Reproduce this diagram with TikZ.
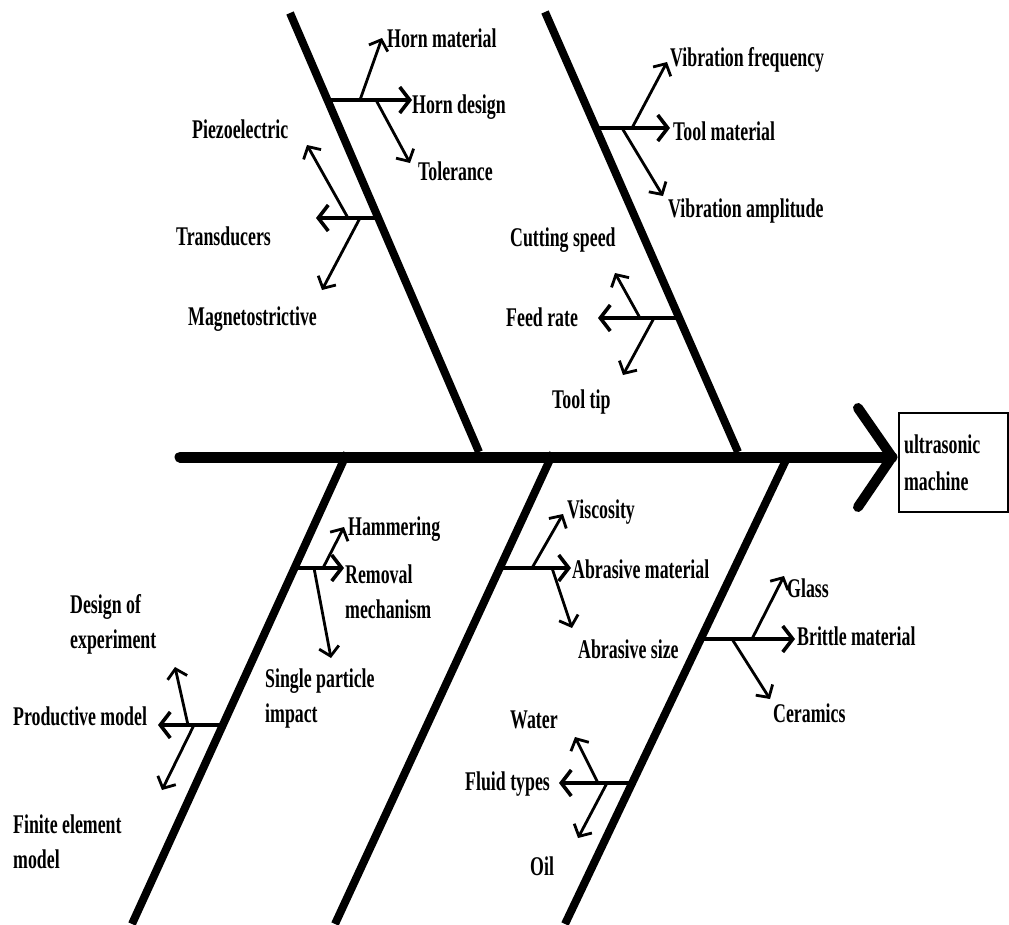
\documentclass[tikz,border=0pt]{standalone}
\usepackage{fontspec}
\newfontfamily\lblfont{Liberation Serif}[FakeStretch=0.66]
\usetikzlibrary{arrows.meta}
\begin{document}
\begin{tikzpicture}[x=1pt,y=-1pt,
  spine/.style={line width=11pt,line cap=round},
  head/.style={line width=10pt,line cap=round,line join=round},
  bone/.style={line width=8pt},
  branch/.style={line width=3.6pt,-{Straight Barb[length=10pt,width=26pt]}},
  twig/.style={line width=2.8pt,-{Straight Barb[length=9pt,width=20pt]}},
  lbl/.style={anchor=base west,inner sep=0pt,align=left,
    font=\lblfont\bfseries\fontsize{27}{35}\selectfont},
]
\useasboundingbox (0,0) rectangle (1009,924);

% effect box
\node (goal) [draw,line width=2.2pt,anchor=north west,minimum height=99pt,
  text width=99pt,inner xsep=5pt,inner ysep=0pt,align=left,
  font=\lblfont\bfseries\fontsize{27}{37}\selectfont] at (898,412) {ultrasonic\\machine};

% spine and its head
\coordinate (sp0) at (180,457);
\coordinate (sp1) at (892,457);
\coordinate (hd1) at (858,408);
\coordinate (hd2) at (858,507);
\draw[spine] (sp0) -- (sp1);
\draw[head] (hd1) -- (sp1) -- (hd2);

% main bones
\coordinate (b1t) at (290,13);  \coordinate (b1b) at (479,452);
\coordinate (b2t) at (545,12);  \coordinate (b2b) at (738,452);
\coordinate (b3t) at (347,453); \coordinate (b3b) at (132,924);
\coordinate (b4t) at (553,453); \coordinate (b4b) at (335,924);
\coordinate (b5t) at (786,460); \coordinate (b5b) at (565,924);
\foreach \b in {1,...,5} \draw[bone] (b\b t) -- (b\b b);

% labels (multi-line labels are placed by the baseline of their last line)
\node[lbl] (hm)  at (387,47)  {Horn material};
\node[lbl] (hd)  at (412,113) {Horn design};
\node[lbl] (tol) at (418,180) {Tolerance};
\node[lbl] (pz)  at (192,138) {Piezoelectric};
\node[lbl] (tr)  at (176,245) {Transducers};
\node[lbl] (mg)  at (188,325) {Magnetostrictive};
\node[lbl] (vf)  at (670,66)  {Vibration frequency};
\node[lbl] (tm)  at (673,140) {Tool material};
\node[lbl] (va)  at (668,217) {Vibration amplitude};
\node[lbl] (cs)  at (510,246) {Cutting speed};
\node[lbl] (fr)  at (506,326) {Feed rate};
\node[lbl] (tt)  at (552,408) {Tool tip};
\node[lbl] (ham) at (348,535) {Hammering};
\node[lbl] (rm)  at (345,618) {Removal\\mechanism};
\node[lbl] (sp)  at (265,722) {Single particle\\impact};
\node[lbl] (de)  at (70,648)  {Design of\\experiment};
\node[lbl] (pm)  at (13,725)  {Productive model};
\node[lbl] (fe)  at (13,868)  {Finite element\\model};
\node[lbl] (vis) at (567,518) {Viscosity};
\node[lbl] (am)  at (572,578) {Abrasive material};
\node[lbl] (as)  at (578,658) {Abrasive size};
\node[lbl] (wa)  at (510,728) {Water};
\node[lbl] (ft)  at (465,790) {Fluid types};
\node[lbl] (oil) at (530,875) {Oil};
\node[lbl] (gl)  at (787,597) {Glass};
\node[lbl] (bm)  at (797,645) {Brittle material};
\node[lbl] (cer) at (773,722) {Ceramics};

% horn cluster
\coordinate (h0) at (328,100); \coordinate (h1) at (412,100);
\coordinate (h2) at (360,100); \coordinate (h3) at (382,38);
\coordinate (h4) at (376,100); \coordinate (h5) at (410,163);
\draw[branch] (h0) -- (h1);
\draw[twig] (h2) -- (h3);
\draw[twig] (h4) -- (h5);

% transducer cluster
\coordinate (t0) at (378,218); \coordinate (t1) at (316,218);
\coordinate (t2) at (348,218); \coordinate (t3) at (307,145);
\coordinate (t4) at (360,218); \coordinate (t5) at (322,290);
\draw[branch] (t0) -- (t1);
\draw[twig] (t2) -- (t3);
\draw[twig] (t4) -- (t5);

% tool cluster
\coordinate (o0) at (596,128); \coordinate (o1) at (670,128);
\coordinate (o2) at (632,128); \coordinate (o3) at (667,62);
\coordinate (o4) at (622,128); \coordinate (o5) at (663,196);
\draw[branch] (o0) -- (o1);
\draw[twig] (o2) -- (o3);
\draw[twig] (o4) -- (o5);

% feed cluster
\coordinate (f0) at (679,318); \coordinate (f1) at (598,318);
\coordinate (f2) at (640,318); \coordinate (f3) at (615,273);
\coordinate (f4) at (654,318); \coordinate (f5) at (623,375);
\draw[branch] (f0) -- (f1);
\draw[twig] (f2) -- (f3);
\draw[twig] (f4) -- (f5);

% removal cluster
\coordinate (r0) at (294,568); \coordinate (r1) at (344,568);
\coordinate (r2) at (323,568); \coordinate (r3) at (344,527);
\coordinate (r4) at (314,568); \coordinate (r5) at (331,658);
\draw[branch] (r0) -- (r1);
\draw[twig] (r2) -- (r3);
\draw[twig] (r4) -- (r5);

% model cluster
\coordinate (m0) at (222,725); \coordinate (m1) at (158,725);
\coordinate (m2) at (188,725); \coordinate (m3) at (175,667);
\coordinate (m4) at (194,725); \coordinate (m5) at (162,790);
\draw[branch] (m0) -- (m1);
\draw[twig] (m2) -- (m3);
\draw[twig] (m4) -- (m5);

% abrasive cluster
\coordinate (a0) at (500,568); \coordinate (a1) at (571,568);
\coordinate (a2) at (532,568); \coordinate (a3) at (563,514);
\coordinate (a4) at (552,568); \coordinate (a5) at (572,628);
\draw[branch] (a0) -- (a1);
\draw[twig] (a2) -- (a3);
\draw[twig] (a4) -- (a5);

% fluid cluster
\coordinate (u0) at (632,783); \coordinate (u1) at (559,783);
\coordinate (u2) at (598,783); \coordinate (u3) at (575,737);
\coordinate (u4) at (607,783); \coordinate (u5) at (578,838);
\draw[branch] (u0) -- (u1);
\draw[twig] (u2) -- (u3);
\draw[twig] (u4) -- (u5);

% work material cluster
\coordinate (w0) at (701,639); \coordinate (w1) at (795,639);
\coordinate (w2) at (752,639); \coordinate (w3) at (784,576);
\coordinate (w4) at (732,639); \coordinate (w5) at (770,699);
\draw[branch] (w0) -- (w1);
\draw[twig] (w2) -- (w3);
\draw[twig] (w4) -- (w5);
\end{tikzpicture}
\end{document}
